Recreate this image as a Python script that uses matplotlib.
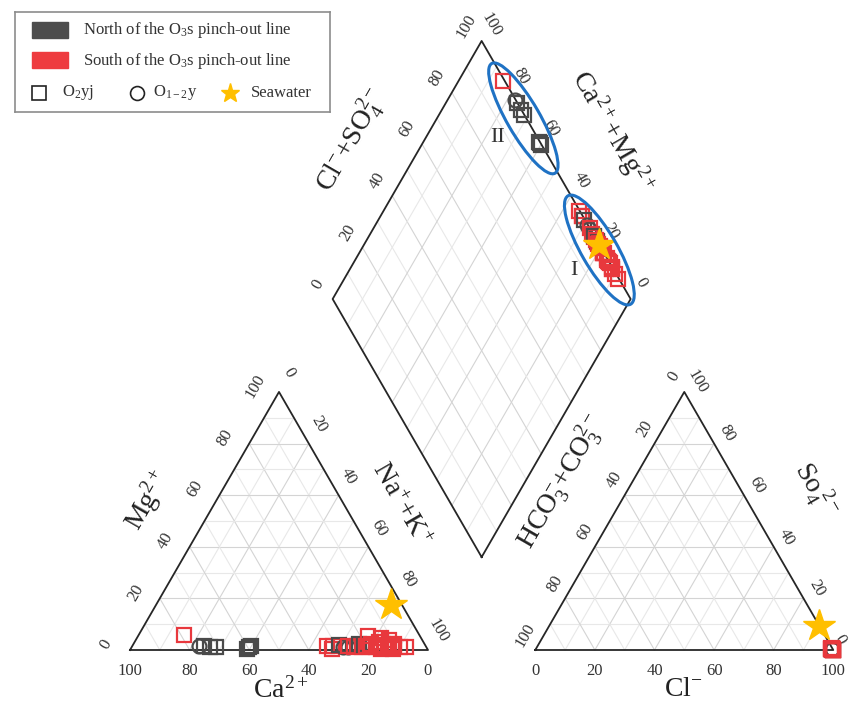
# -*- coding: utf-8 -*-
"""
Piper diagram of groundwater samples, north / south of the O3s pinch-out line.
"""

import numpy as np
import matplotlib.pyplot as plt
from matplotlib.patches import Ellipse, Rectangle

plt.rcParams['font.family'] = ['Liberation Serif', 'DejaVu Serif']
plt.rcParams['mathtext.fontset'] = 'custom'
plt.rcParams['mathtext.rm'] = 'Liberation Serif'
plt.rcParams['mathtext.it'] = 'Liberation Serif:italic'
plt.rcParams['mathtext.bf'] = 'Liberation Serif:bold'

# ---- sample data (meq %) ----
# region: N = north of pinch-out line, S = south
region = ['S', 'N', 'N', 'N', 'N', 'N', 'N', 'N',
          'S', 'S', 'S', 'N', 'N', 'N', 'S', 'S', 'S', 'N', 'S', 'N', 'S',
          'S', 'S', 'S', 'S', 'S', 'S', 'S', 'S', 'S', 'S', 'S', 'S', 'S',
          'S', 'S', 'S', 'S']
# aquifer: sq = O2yj, ci = O1-2y
aquifer = ['sq', 'ci', 'sq', 'sq', 'sq', 'sq', 'sq', 'sq',
           'sq', 'sq', 'sq', 'sq', 'ci', 'ci', 'sq', 'sq', 'sq', 'sq', 'sq', 'sq', 'sq',
           'sq', 'sq', 'sq', 'sq', 'sq', 'sq', 'sq', 'sq', 'sq', 'sq', 'sq', 'sq', 'sq',
           'sq', 'sq', 'sq', 'sq']
ca = [79, 76, 74.5, 72.5, 70.5, 60.5, 59.5, 58.5,
      33, 32, 31, 29, 28, 26.5, 26, 24.5, 23, 22, 21.5, 20.5, 20,
      19, 18, 17.5, 17, 16, 15.5, 15, 14, 13.5, 13, 12, 11.5, 11,
      10.5, 10, 9, 7]
mg = [6, 1.5, 1.5, 1.0, 1.0, 0.5, 1.0, 1.5,
      1.5, 0.5, 1.5, 2.0, 1.0, 1.0, 1.5, 1.0, 1.5, 2.5, 1.0, 2.0, 1.5,
      1.0, 2.5, 5.5, 1.0, 2.0, 0.5, 3.0, 1.5, 4.5, 1.0, 2.5, 0.5, 4.0,
      1.5, 2.5, 1.0, 1.0]
cl = [99.2, 99.5, 99.6, 99.4, 99.5, 99.3, 99.6, 99.2,
      99.4, 99.7, 99.1, 99.5, 99.6, 99.3, 99.8, 99.5, 99.2, 99.6, 99.4, 99.7, 99.3,
      99.5, 99.8, 99.1, 99.6, 99.4, 99.7, 99.2, 99.5, 99.3, 99.8, 99.6, 99.4, 99.2,
      99.5, 99.7, 99.3, 99.6]
so4 = [0.3, 0.2, 0.2, 0.3, 0.2, 0.4, 0.2, 0.5,
       0.3, 0.1, 0.5, 0.2, 0.2, 0.4, 0.1, 0.3, 0.5, 0.2, 0.3, 0.1, 0.4,
       0.3, 0.1, 0.6, 0.2, 0.3, 0.1, 0.5, 0.3, 0.4, 0.1, 0.2, 0.3, 0.5,
       0.3, 0.1, 0.4, 0.2]

# seawater reference
sw_ca, sw_mg, sw_cl, sw_so4 = 3.5, 17.5, 90.5, 9.3

# hydrochemical groups in the diamond: (Ca+Mg, Cl+SO4) of centre, label position
group_names = ['II', 'I']
group_centres = [(71, 99), (20, 99)]
group_labels = [(76, 86.5), (24.5, 86.5)]

ticks = [0, 20, 40, 60, 80, 100]

colors = {'N': '#4a4a4a', 'S': '#e8383d'}
markers = {'sq': 's', 'ci': 'o'}
STAR = '#ffbf00'
GRID_MAJ = '#d4d4d4'
GRID_MIN = '#e8e8e8'
EDGE = '#262626'

# ---- geometry ----
PX = 2.98                 # pixels per percent unit
GAP = 36                  # gap between the triangles
H = np.sqrt(3) / 2
BX, BY = 100 + GAP / 2, GAP / 2 * np.sqrt(3)   # diamond bottom vertex


def cation_xy(c, m):
    c, m = np.asarray(c, float), np.asarray(m, float)
    nak = 100 - c - m
    return nak + m / 2, m * H


def anion_xy(c, s):
    c, s = np.asarray(c, float), np.asarray(s, float)
    return 100 + GAP + c + s / 2, s * H


def diamond_xy(camg, clso4):
    camg, clso4 = np.asarray(camg, float), np.asarray(clso4, float)
    return BX + 0.5 * (clso4 - camg), BY + H * (clso4 + camg)


def px2d(x, y):
    return (x - 130) / PX, (650 - y) / PX


def off(x, y, dx, dy):
    # shift a data point by a pixel offset (dy positive = down)
    return x + dx / PX, y - dy / PX


fig = plt.figure(figsize=(8.51, 7.14), dpi=100)
ax = fig.add_axes([0, 0, 1, 1])
ax.set_xlim(-130 / PX, (851 - 130) / PX)
ax.set_ylim((650 - 714) / PX, 650 / PX)
ax.axis('off')

# ---- grids (minor every 10, major every 20) ----
for ox in [0, 100 + GAP]:
    for i in range(10, 100, 10):
        gc = GRID_MAJ if i % 20 == 0 else GRID_MIN
        ax.plot([ox + i / 2, ox + 100 - i / 2], [i * H, i * H], color=gc, lw=0.8, zorder=1)
        ax.plot([ox + i, ox + i + (100 - i) / 2], [0, (100 - i) * H], color=gc, lw=0.8, zorder=1)
        ax.plot([ox + 100 - i, ox + (100 - i) / 2], [0, (100 - i) * H], color=gc, lw=0.8, zorder=1)
    ax.plot([ox, ox + 100, ox + 50, ox], [0, 0, 100 * H, 0], color=EDGE, lw=1.3, zorder=2)

for i in range(10, 100, 10):
    gc = GRID_MAJ if i % 20 == 0 else GRID_MIN
    x, y = diamond_xy([i, i], [0, 100])
    ax.plot(x, y, color=gc, lw=0.8, zorder=1)
    x, y = diamond_xy([0, 100], [i, i])
    ax.plot(x, y, color=gc, lw=0.8, zorder=1)
x, y = diamond_xy([0, 100, 100, 0, 0], [0, 0, 100, 100, 0])
ax.plot(x, y, color=EDGE, lw=1.3, zorder=2)

# ---- tick labels ----
tk = dict(fontsize=12, color='#333333', ha='center', va='center', rotation_mode='anchor')
for v in ticks:
    x, y = cation_xy(v, 0)
    ax.text(*off(x, y, 0, 21), str(v), **tk)
    x, y = cation_xy(100 - v, v)
    ax.text(*off(x, y, -24, -6), str(v), rotation=60, **tk)
    x, y = cation_xy(0, 100 - v)
    ax.text(*off(x, y, 10, -19), str(v), rotation=-60, **tk)
    x, y = anion_xy(v, 0)
    ax.text(*off(x, y, 0, 21), str(v), **tk)
    x, y = anion_xy(0, 100 - v)
    ax.text(*off(x, y, -10, -15), str(v), rotation=60, **tk)
    x, y = anion_xy(100 - v, v)
    # the corner label sits right at the figure edge
    dx = 13 if v > 0 else 7
    ax.text(*off(x, y, dx, -10), str(v), rotation=-60, **tk)
    x, y = diamond_xy(100, v)
    ax.text(*off(x, y, -15, -15), str(v), rotation=60, **tk)
    x, y = diamond_xy(v, 100)
    ax.text(*off(x, y, 10, -16), str(v), rotation=-60, **tk)

# ---- axis titles ----
tt = dict(fontsize=20, color='#222222', ha='center', va='center', rotation_mode='anchor')
ax.text(*px2d(281, 690), 'Ca$^{2+}$', **tt)
ax.text(*px2d(683, 690), 'Cl$^{-}$', **tt)
ax.text(*px2d(148, 500), 'Mg$^{2+}$', rotation=60, **tt)
ax.text(*px2d(400, 505), 'Na$^{+}$+K$^{+}$', rotation=-60, **tt)
ax.text(*px2d(562, 482), 'HCO$_3^{-}$+CO$_3^{2-}$', rotation=60, **tt)
ax.text(*px2d(815, 490), 'So$_4^{\\ 2-}$', rotation=-60, **tt)
ax.text(*px2d(352, 140), 'Cl$^{-}$+SO$_4^{2-}$', rotation=60, **tt)
ax.text(*px2d(612, 132), 'Ca$^{2+}$+Mg$^{2+}$', rotation=-60, **tt)

# ---- samples ----
camg = np.array(ca) + np.array(mg)
clso4 = np.array(cl) + np.array(so4)
for k in range(len(ca)):
    st = dict(ls='none', marker=markers[aquifer[k]], mfc='none', mec=colors[region[k]],
              ms=10, mew=1.6, zorder=4)
    ax.plot(*cation_xy(ca[k], mg[k]), **st)
    ax.plot(*anion_xy(cl[k], so4[k]), **st)
    ax.plot(*diamond_xy(camg[k], clso4[k]), **st)

# seawater
sw = dict(ls='none', marker='*', color=STAR, ms=24, zorder=5)
ax.plot(*cation_xy(sw_ca, sw_mg), **sw)
ax.plot(*anion_xy(sw_cl, sw_so4), **sw)
ax.plot(*diamond_xy(sw_ca + sw_mg, sw_cl + sw_so4), **sw)

# ---- groups ----
sizes = [(42.5, 11), (42, 12)]
for name, cen, lab, sz in zip(group_names, group_centres, group_labels, sizes):
    e = Ellipse(diamond_xy(*cen), sz[0], sz[1], angle=-60, fill=False,
                ec='#1f72c4', lw=2.2, zorder=6)
    ax.add_patch(e)
    ax.text(*diamond_xy(*lab), name, fontsize=16, color='#333333', ha='center', va='center')

# ---- legend ----
lax = fig.add_axes([15 / 851, 1 - 112 / 714, 315 / 851, 100 / 714])
lax.set_xlim(15, 330)
lax.set_ylim(112, 12)
lax.set_xticks([])
lax.set_yticks([])
for sp in lax.spines.values():
    sp.set_color('#8c8c8c')
    sp.set_linewidth(1.2)

lax.add_patch(Rectangle((32, 22), 36, 16, color='#4d4d4d'))
lax.add_patch(Rectangle((32, 52), 36, 16, color='#ee3b3f'))
lt = dict(fontsize=12, color='#333333', va='center')
lax.text(83, 30, 'North of the O$_3$s pinch-out line', **lt)
lax.text(83, 61, 'South of the O$_3$s pinch-out line', **lt)
lax.plot(39, 93, 's', mfc='none', mec='#222222', ms=9.5, mew=1.2)
lax.text(62, 93, 'O$_2$yj', **lt)
lax.plot(137, 93, 'o', mfc='none', mec='#222222', ms=10, mew=1.2)
lax.text(153, 93, 'O$_{1-2}$y', **lt)
lax.plot(230, 93, '*', color=STAR, ms=14)
lax.text(251, 93, 'Seawater', **lt)

plt.savefig('out.png', dpi=100)
